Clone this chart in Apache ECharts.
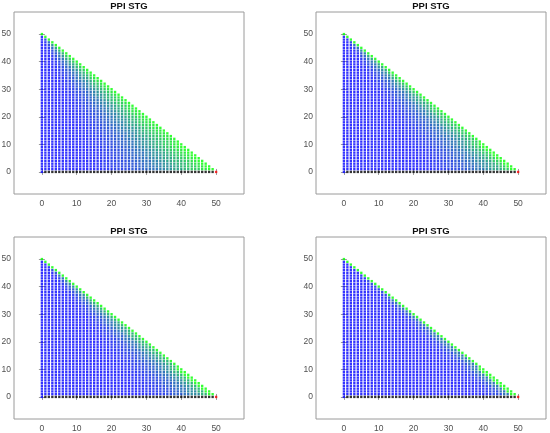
<!DOCTYPE html>
<html>
<head>
<meta charset="utf-8">
<script src="https://cdn.jsdelivr.net/npm/echarts@6/dist/echarts.min.js"></script>
<style>
  html, body { margin: 0; padding: 0; background: #fff; }
  #echarts { width: 550px; height: 433px; }
</style>
</head>
<body>
<div id="echarts"></div>
<script>
/** data */
var titles = ['PPI STG', 'PPI STG', 'PPI STG', 'PPI STG']
var xTicks = [0, 10, 20, 30, 40, 50]
var yTicks = [0, 10, 20, 30, 40, 50]
var gridN = 50 // lattice i + j <= 50
// position along a row, i / (50 - j), in steps of 0.05
var ratioSteps = [0, 0.05, 0.1, 0.15, 0.2, 0.25, 0.3, 0.35, 0.4, 0.45, 0.5,
                  0.55, 0.6, 0.65, 0.7, 0.75, 0.8, 0.85, 0.9, 0.95, 1]
// how green a point is (0 = blue, 1 = green) at each step, one list per panel
var green1 = [0, 0, 0, 0, 0, 0, 0.01, 0.03, 0.06, 0.1, 0.15, 0.2, 0.26, 0.32, 0.4, 0.48, 0.57, 0.66, 0.76, 0.88, 1]
var green2 = [0, 0, 0, 0, 0, 0, 0, 0, 0, 0, 0.02, 0.05, 0.09, 0.14, 0.2, 0.27, 0.35, 0.45, 0.57, 0.74, 1]
var green3 = [0, 0, 0, 0, 0, 0, 0, 0, 0, 0, 0, 0, 0.02, 0.05, 0.09, 0.15, 0.23, 0.32, 0.45, 0.64, 1]
var green4 = [0, 0, 0, 0, 0, 0, 0, 0, 0, 0, 0, 0, 0, 0, 0, 0, 0.02, 0.05, 0.14, 0.35, 1]
var greens = [green1, green2, green3, green4]

/** layout */
var grids = [
    {left: 14, top: 12, width: 230, height: 182},
    {left: 316, top: 12, width: 230, height: 182},
    {left: 14, top: 237, width: 230, height: 182},
    {left: 316, top: 237, width: 230, height: 182}
]
var axisGray = '#9a9a9a'
var labelGray = '#505050'
var dotSize = 2.35

var myChart
var option

/** build points of one panel */
var buildPoints = function(green) {
    var pts = [[0, 0, 0]] // corner point is blue
    for (var j = 1; j <= gridN; j++) {
        var rowLen = gridN - j
        for (var i = 0; i <= rowLen; i++) {
            var t = rowLen == 0 ? 1 : i / rowLen
            var k = Math.round(t * (ratioSteps.length - 1))
            pts.push([i, j, green[k]])
        }
    }
    return pts
}
var bottomRow = function() {
    var pts = []
    for (var i = 1; i < gridN; i++) pts.push([i, 0])
    return pts
}

var axisBase = function(type, k, pos, labels) {
    var ticks = type == 'x' ? xTicks : yTicks
    return {
        type: 'value',
        gridIndex: k,
        position: pos,
        min: -8,
        max: 58,
        axisLine: {show: false},
        splitLine: {show: false},
        axisTick: {
            show: true,
            inside: true,
            length: 3,
            customValues: ticks,
            lineStyle: {color: axisGray, width: 1}
        },
        axisLabel: {
            show: labels,
            customValues: ticks,
            fontSize: 8.5,
            fontFamily: 'Liberation Sans, Arial, sans-serif',
            color: labelGray,
            margin: type == 'x' ? 5 : 3
        }
    }
}

/** option */
var initOption = function() {
    var xAxes = [], yAxes = [], series = [], title = [], gridOpt = [], mapIdx = []
    for (var k = 0; k < 4; k++) {
        var g = grids[k]
        gridOpt.push({
            left: g.left, top: g.top, width: g.width, height: g.height,
            outerBoundsMode: 'none',
            containLabel: false,
            show: true, borderColor: axisGray, borderWidth: 1, backgroundColor: '#fff'
        })
        title.push({
            text: titles[k],
            left: g.left + g.width / 2,
            top: g.top - 11,
            textAlign: 'center',
            padding: 0,
            textStyle: {fontSize: 9.5, fontWeight: 'bold', color: '#111',
                        fontFamily: 'Liberation Sans, Arial, sans-serif'}
        })
        xAxes.push(axisBase('x', k, 'bottom', true))
        xAxes.push(axisBase('x', k, 'top', false))
        yAxes.push(axisBase('y', k, 'left', true))
        yAxes.push(axisBase('y', k, 'right', false))
        mapIdx.push(series.length)
        series.push({
            type: 'scatter',
            xAxisIndex: k * 2, yAxisIndex: k * 2,
            symbol: 'rect',
            symbolSize: dotSize,
            data: buildPoints(greens[k]),
            silent: true
        })
        series.push({
            type: 'scatter',
            xAxisIndex: k * 2, yAxisIndex: k * 2,
            symbol: 'rect',
            symbolSize: dotSize,
            itemStyle: {color: '#000'},
            data: bottomRow(),
            silent: true
        })
        series.push({
            type: 'scatter',
            xAxisIndex: k * 2, yAxisIndex: k * 2,
            symbol: 'rect',
            symbolSize: dotSize,
            itemStyle: {color: '#ff0000'},
            data: [[gridN, 0]],
            silent: true
        })
    }
    option = {
        animation: false,
        backgroundColor: '#fff',
        title: title,
        grid: gridOpt,
        xAxis: xAxes,
        yAxis: yAxes,
        visualMap: {
            type: 'continuous',
            show: false,
            min: 0,
            max: 1,
            dimension: 2,
            seriesIndex: mapIdx,
            inRange: {color: ['#0000ff', '#00ff00']}
        },
        series: series
    }
}

initOption()
myChart = echarts.init(document.getElementById('echarts'))
myChart.setOption(option)
</script>
</body>
</html>
